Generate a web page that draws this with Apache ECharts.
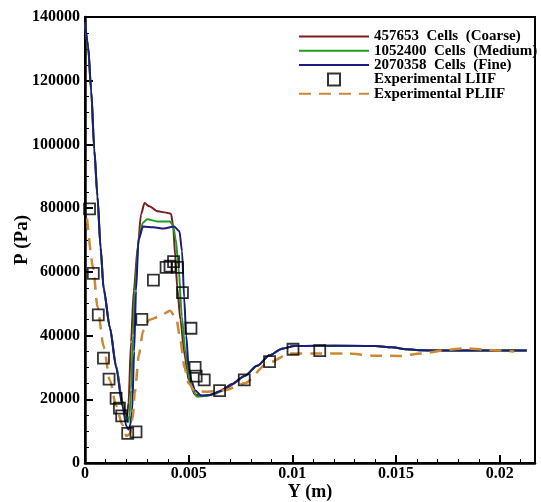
<!DOCTYPE html>
<html>
<head>
<meta charset="utf-8">
<script src="https://cdn.jsdelivr.net/npm/echarts@6/dist/echarts.min.js"></script>
<style>
  html, body { margin: 0; padding: 0; background: #fff; }
  #chart { width: 541px; height: 502px; }
</style>
</head>
<body>
<div id="chart"></div>
<script>
// Y (m), P (Pa)
const coarse = [
  [0, 138000], [0.00015, 130500], [0.0003, 116500], [0.00045, 98000], [0.0006, 83500],
  [0.00075, 67500], [0.0009, 54500], [0.0012, 42500], [0.0015, 30500], [0.0018, 19500],
  [0.00195, 15500], [0.00202, 14500], [0.0021, 19000], [0.00222, 38000], [0.00235, 54000],
  [0.00255, 68000], [0.0027, 78000], [0.00287, 81600], [0.0031, 80600], [0.0035, 79000],
  [0.004, 78500], [0.00415, 78200], [0.00425, 74500], [0.00435, 65000], [0.00445, 55000],
  [0.0046, 45000], [0.0048, 34000], [0.005, 26000], [0.0053, 21500], [0.0057, 21000],
  [0.0062, 21600], [0.0068, 23500], [0.0077, 27300], [0.0083, 30500], [0.0089, 33800],
  [0.0095, 35900], [0.0101, 36700], [0.012, 36800], [0.014, 36700], [0.0148, 36300],
  [0.0155, 35700], [0.0162, 35400], [0.018, 35300], [0.0213, 35300]
];
const medium = [
  [0, 138000], [0.00015, 130500], [0.0003, 116500], [0.00045, 98000], [0.0006, 83500],
  [0.00075, 67500], [0.0009, 54500], [0.0012, 42500], [0.0015, 30500], [0.0018, 19000],
  [0.002, 13500], [0.00208, 12800], [0.00215, 15000], [0.00222, 23000], [0.00232, 40000],
  [0.0024, 54000], [0.0026, 71000], [0.0028, 75500], [0.003, 76500], [0.0035, 75800],
  [0.0041, 75800], [0.00425, 74500], [0.00437, 70500], [0.00451, 61600], [0.00467, 46000],
  [0.00483, 35500], [0.00507, 25000], [0.0054, 20800], [0.0059, 21100], [0.0065, 22400],
  [0.0071, 24800], [0.0077, 27300], [0.0083, 30500], [0.0089, 33800], [0.0095, 35900],
  [0.0101, 36700], [0.012, 36800], [0.014, 36700], [0.0148, 36300], [0.0155, 35700],
  [0.0162, 35400], [0.018, 35300], [0.0213, 35300]
];
const fine = [
  [0, 138500], [0.00015, 131000], [0.0003, 117000], [0.00045, 98500], [0.0006, 84000],
  [0.00075, 68000], [0.0009, 55000], [0.0012, 42500], [0.0015, 30000], [0.0018, 18000],
  [0.002, 11500], [0.0021, 10500], [0.00218, 12000], [0.00227, 16000], [0.00237, 35000],
  [0.00246, 54000], [0.00258, 70000], [0.0028, 74200], [0.0033, 74000], [0.0038, 73600],
  [0.0043, 74200], [0.00455, 72800], [0.00468, 66500], [0.00478, 52000], [0.00488, 40000],
  [0.005, 30000], [0.00515, 25500], [0.0053, 22800], [0.0056, 21200], [0.006, 21300],
  [0.0065, 22500], [0.0071, 24800], [0.0077, 27300], [0.0083, 30500], [0.0089, 33800],
  [0.0095, 35900], [0.0101, 36700], [0.011, 36800], [0.012, 36800], [0.013, 36800],
  [0.014, 36700], [0.0148, 36300], [0.0155, 35700], [0.0162, 35400], [0.017, 35300],
  [0.018, 35300], [0.019, 35300], [0.02, 35300], [0.0213, 35300]
];
const liif = [
  [0.00022, 79800], [0.0004, 59500], [0.00064, 46500], [0.00089, 32900], [0.00116, 26300],
  [0.0015, 20300], [0.00166, 17200], [0.00177, 14800], [0.00206, 9300], [0.00246, 9800],
  [0.00274, 45100], [0.0033, 57400], [0.00391, 61400], [0.0041, 61800], [0.00427, 63200],
  [0.00446, 61400], [0.0047, 53500], [0.00511, 42300], [0.00531, 30000], [0.00536, 27300],
  [0.00575, 26100], [0.00649, 22700], [0.00768, 26100], [0.0089, 31800], [0.01003, 35700],
  [0.01132, 35300]
];
const pliif = [
  [0.0001, 76800], [0.0004, 61000], [0.0006, 49000], [0.0009, 36500], [0.0012, 26000],
  [0.0015, 18000], [0.0018, 12000], [0.002, 8500], [0.00215, 9000], [0.0023, 14000],
  [0.0024, 22000], [0.0026, 34000], [0.0028, 41500], [0.0031, 45000], [0.0036, 46000],
  [0.0041, 47800], [0.0044, 45500], [0.0046, 38500], [0.0048, 30000], [0.005, 25000],
  [0.0053, 22500], [0.0059, 22400], [0.0068, 22900], [0.0077, 25000], [0.0088, 31300],
  [0.0099, 34400], [0.011, 34400], [0.0126, 34400], [0.0139, 33700], [0.0152, 33600],
  [0.0162, 34400], [0.0175, 35500], [0.0183, 36000], [0.0194, 35500], [0.0207, 35000]
];

const names = ['457653  Cells  (Coarse)', '1052400  Cells  (Medium)', '2070358  Cells  (Fine)',
  'Experimental LIIF', 'Experimental PLIIF'];
const xMax = 0.0217;
const yMax = 140000;

const font = "'Liberation Serif', 'Times New Roman', serif";

const chart = echarts.init(document.getElementById('chart'));

function lineSeries(name, data, color) {
  return {
    name, type: 'line', data, symbol: 'none', smooth: 0.25, smoothMonotone: 'x',
    lineStyle: { color, width: 2 }, itemStyle: { color }
  };
}

// line entries: hide the marker that echarts puts in the middle of the legend line
const noMarker = { opacity: 0 };

chart.setOption({
  animation: false,
  grid: {
    left: 85, right: 6, top: 17, bottom: 39, outerBoundsMode: 'none',
    show: true, borderColor: '#000', borderWidth: 2
  },
  legend: {
    left: 293, top: 24, orient: 'vertical', itemWidth: 70, itemHeight: 12, itemGap: -0.7,
    symbolKeepAspect: true,
    textStyle: { fontFamily: font, fontWeight: 'bold', fontSize: 15, color: '#000' },
    data: [
      { name: names[0], itemStyle: noMarker },
      { name: names[1], itemStyle: noMarker },
      { name: names[2], itemStyle: noMarker },
      { name: names[3], icon: 'path://M0,0H10V10H0Z' },
      { name: names[4], itemStyle: noMarker }
    ]
  },
  xAxis: [{
    type: 'value', min: 0, max: xMax, interval: 0.005,
    name: 'Y (m)', nameLocation: 'middle', nameGap: 20, nameMoveOverlap: false,
    nameTextStyle: { fontFamily: font, fontWeight: 'bold', fontSize: 18, color: '#000' },
    axisLine: { lineStyle: { color: '#000', width: 2.5 } },
    axisTick: { inside: true, length: 8, lineStyle: { color: '#000', width: 2 } },
    splitLine: { show: false },
    axisLabel: {
      margin: 3, showMaxLabel: false, color: '#000', fontFamily: font, fontWeight: 'bold', fontSize: 16,
      formatter: v => String(+v.toFixed(4))
    }
  }, {
    type: 'value', min: 0, max: xMax, interval: 0.001, position: 'bottom',
    axisLine: { show: false }, axisLabel: { show: false }, splitLine: { show: false },
    axisTick: { inside: true, length: 4, lineStyle: { color: '#000', width: 1 } }
  }],
  yAxis: [{
    type: 'value', min: 0, max: yMax, interval: 20000,
    name: 'P (Pa)', nameLocation: 'middle', nameGap: 53, nameRotate: 90, nameMoveOverlap: false,
    nameTextStyle: { fontFamily: font, fontWeight: 'bold', fontSize: 19, color: '#000' },
    axisLine: { show: true, lineStyle: { color: '#000', width: 2.5 } },
    axisTick: { show: true, inside: true, length: 8, lineStyle: { color: '#000', width: 2 } },
    splitLine: { show: false },
    axisLabel: {
      margin: 5, color: '#000', fontFamily: font, fontWeight: 'bold', fontSize: 16,
      formatter: v => String(v)
    }
  }, {
    type: 'value', min: 0, max: yMax, interval: 5000, position: 'left',
    axisLine: { show: false }, axisLabel: { show: false }, splitLine: { show: false },
    axisTick: { show: true, inside: true, length: 4, lineStyle: { color: '#000', width: 1 } }
  }],
  series: [
    lineSeries(names[0], coarse, '#7a1e1e'),
    lineSeries(names[1], medium, '#1f9a24'),
    lineSeries(names[2], fine, '#1c1c80'),
    {
      name: names[3], type: 'scatter', data: liif, symbol: 'rect', symbolSize: 11, z: 4,
      itemStyle: { color: 'rgba(0,0,0,0)', borderColor: '#000', borderWidth: 1.8 }
    },
    {
      name: names[4], type: 'line', data: pliif, symbol: 'none', smooth: 0.25, smoothMonotone: 'x', z: 3,
      lineStyle: { color: '#cc8833', width: 2.5, type: [12, 8] }, itemStyle: { color: '#cc8833' }
    }
  ]
});
</script>
</body>
</html>
